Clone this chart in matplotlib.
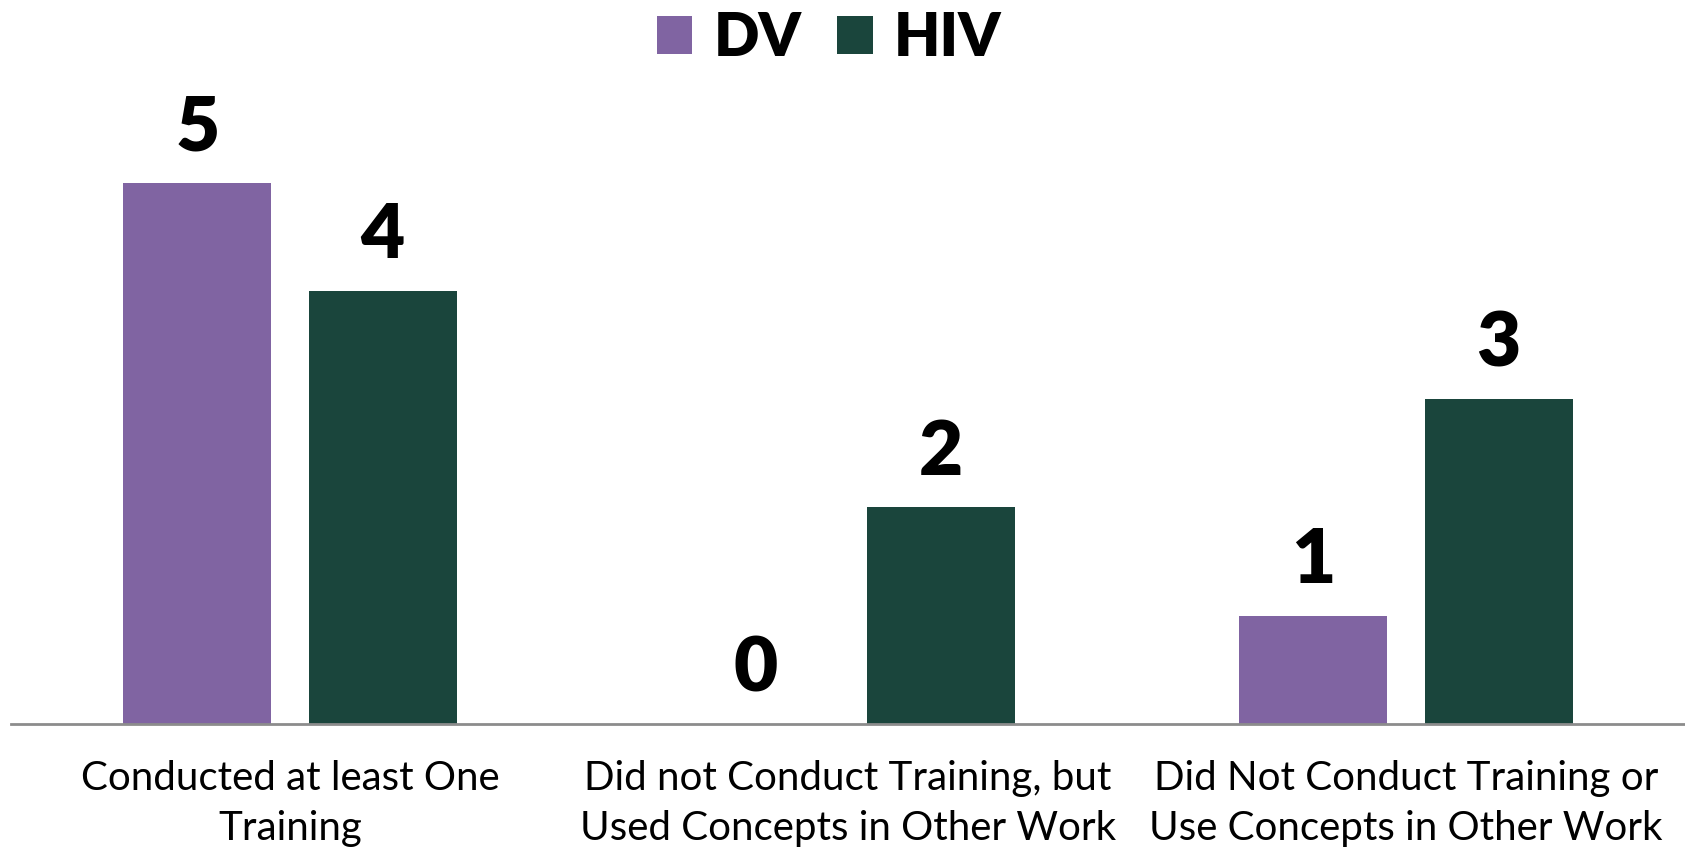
import matplotlib.pyplot as plt
import numpy as np

plt.rcParams['font.family'] = ['Lato', 'DejaVu Sans']

# data
categories = ['Conducted at least One\nTraining',
              'Did not Conduct Training, but\nUsed Concepts in Other Work',
              'Did Not Conduct Training or\nUse Concepts in Other Work']
dv = [5, 0, 1]
hiv = [4, 2, 3]

purple = '#8064A2'
green = '#1A453C'

fig = plt.figure(figsize=(16.85, 8.51), dpi=100)
ymax = 6.5
h = ymax * 108.3 / 851
ax = fig.add_axes([11 / 1685, 1 - 724 / 851, 1674 / 1685, h])

x = np.arange(len(categories))
w = 0.265
off = 0.166
b1 = ax.bar(x - off, dv, w, color=purple, label='DV')
b2 = ax.bar(x + off, hiv, w, color=green, label='HIV')

for bars in (b1, b2):
    for r in bars:
        ax.annotate(str(int(r.get_height())),
                    (r.get_x() + r.get_width() / 2, r.get_height()),
                    xytext=(0, 14), textcoords='offset points',
                    ha='center', va='bottom', fontsize=55, fontweight='heavy')

ax.set_xlim(-0.5, 2.5)
ax.set_ylim(0, ymax)
ax.set_xticks(x)
ax.set_xticklabels(categories, fontsize=29, linespacing=1.42)
ax.tick_params(axis='x', length=0, pad=26)
ax.set_yticks([])
for s in ['top', 'right', 'left']:
    ax.spines[s].set_visible(False)
ax.spines['bottom'].set_color('#8c8c8c')
ax.spines['bottom'].set_linewidth(2)

fig.legend(loc='upper center', bbox_to_anchor=(0.492, 1.05), ncol=2,
           frameon=False, prop={'size': 43, 'weight': 'heavy'},
           handlelength=0.6, handleheight=0.6, handletextpad=0.35,
           columnspacing=0.6)

fig.savefig('out.png', dpi=100)
